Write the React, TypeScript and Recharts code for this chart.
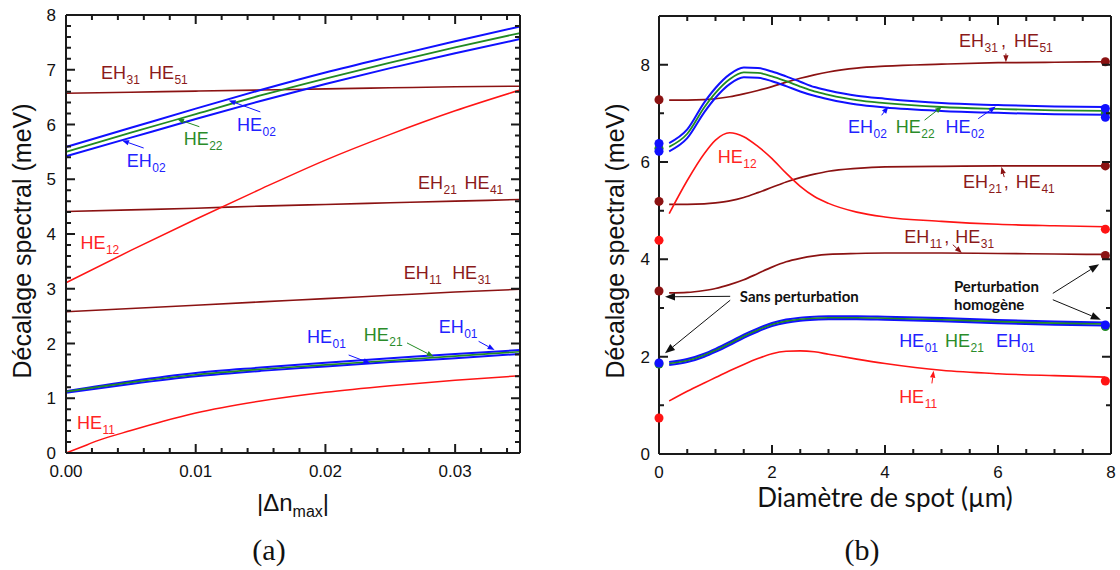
import React from 'react';
import { ComposedChart, Line, Scatter, XAxis, YAxis, ReferenceDot, ReferenceLine } from 'recharts';

const DR = '#8b1212';
const RED = '#ff1414';
const BLUE = '#1010ff';
const GREEN = '#228b22';
const DR_T = '#8b1a1a';
const RED_T = '#ff2424';
const BLUE_T = '#2222ff';
const GREEN_T = '#2a8c2a';
const FRAME = '#1a1a1a';
const SANS = '"Liberation Sans", Arial, sans-serif';

// ---------- Panel (a) data ----------
const aX = [0, 0.005, 0.01, 0.015, 0.02, 0.025, 0.03, 0.035];
const aEH31_HE51 = [6.57, 6.59, 6.61, 6.63, 6.65, 6.67, 6.69, 6.7];
const aEH21_HE41 = [4.41, 4.44, 4.47, 4.51, 4.54, 4.57, 4.6, 4.63];
const aEH11_HE31 = [2.58, 2.64, 2.7, 2.76, 2.82, 2.88, 2.94, 2.99];
const aHE12 = [3.11, 3.7, 4.27, 4.82, 5.35, 5.82, 6.25, 6.63];
const aHE02 = [5.59, 5.94, 6.29, 6.63, 6.95, 7.24, 7.52, 7.79];
const aHE22 = [5.5, 5.85, 6.19, 6.53, 6.84, 7.13, 7.41, 7.67];
const aEH02 = [5.42, 5.76, 6.1, 6.43, 6.74, 7.03, 7.3, 7.56];
const aEH01 = [1.13, 1.31, 1.46, 1.56, 1.65, 1.73, 1.81, 1.88];
const aHE21 = [1.12, 1.29, 1.43, 1.53, 1.61, 1.69, 1.77, 1.85];
const aHE01 = [1.1, 1.26, 1.4, 1.5, 1.58, 1.66, 1.73, 1.81];
const aHE11X = [0, 0.001, 0.0025, 0.005, 0.0075, 0.01, 0.015, 0.02, 0.025, 0.03, 0.035];
const aHE11 = [0, 0.09, 0.23, 0.41, 0.58, 0.73, 0.95, 1.11, 1.23, 1.33, 1.41];

// ---------- Panel (b) data ----------
const bX = [0.18, 0.5, 0.8, 1.0, 1.25, 1.5, 1.75, 2.0, 2.25, 2.5, 2.75, 3.0, 3.5, 4.0, 5.0, 6.0, 7.0, 7.9];
const bEH31_HE51 = [7.27, 7.27, 7.28, 7.3, 7.34, 7.4, 7.47, 7.55, 7.64, 7.72, 7.79, 7.85, 7.93, 7.97, 8.01, 8.04, 8.05, 8.06];
const bEH21_HE41 = [5.13, 5.13, 5.14, 5.16, 5.2, 5.27, 5.37, 5.48, 5.59, 5.68, 5.75, 5.81, 5.87, 5.9, 5.91, 5.92, 5.92, 5.92];
const bEH11_HE31 = [3.31, 3.32, 3.36, 3.4, 3.48, 3.58, 3.71, 3.84, 3.95, 4.02, 4.07, 4.1, 4.12, 4.13, 4.13, 4.12, 4.11, 4.1];
const bHE12 = [4.94, 5.62, 6.17, 6.45, 6.6, 6.52, 6.32, 6.07, 5.77, 5.5, 5.29, 5.15, 4.97, 4.87, 4.78, 4.72, 4.69, 4.67];
const bHE02 = [6.39, 6.67, 7.22, 7.52, 7.8, 7.94, 7.93, 7.86, 7.76, 7.65, 7.54, 7.47, 7.36, 7.3, 7.21, 7.17, 7.14, 7.13];
const bHE22 = [6.31, 6.58, 7.12, 7.42, 7.7, 7.84, 7.83, 7.76, 7.66, 7.55, 7.45, 7.38, 7.27, 7.21, 7.13, 7.09, 7.06, 7.05];
const bEH02 = [6.22, 6.49, 7.02, 7.32, 7.6, 7.74, 7.73, 7.66, 7.56, 7.45, 7.36, 7.29, 7.18, 7.12, 7.05, 7.01, 6.98, 6.97];
const bEH01 = [1.89, 1.95, 2.06, 2.16, 2.3, 2.45, 2.58, 2.69, 2.76, 2.8, 2.82, 2.83, 2.83, 2.82, 2.79, 2.75, 2.72, 2.7];
const bHE21 = [1.86, 1.92, 2.03, 2.13, 2.27, 2.42, 2.55, 2.66, 2.73, 2.77, 2.79, 2.8, 2.8, 2.79, 2.76, 2.72, 2.69, 2.67];
const bHE01 = [1.83, 1.89, 2.0, 2.1, 2.24, 2.39, 2.52, 2.63, 2.7, 2.74, 2.76, 2.77, 2.77, 2.76, 2.73, 2.69, 2.66, 2.64];
const bHE11 = [1.09, 1.29, 1.46, 1.57, 1.71, 1.84, 1.96, 2.06, 2.11, 2.12, 2.1, 2.05, 1.95, 1.86, 1.72, 1.65, 1.61, 1.58];

// end-point markers (no perturbation at x = 0, homogeneous perturbation at x = 7.9)
const bDotX = [0, 7.9];
const bDotsDarkRed = [[7.28, 8.06], [5.19, 5.92], [3.35, 4.08]];
const bDotsRed = [[4.39, 4.62], [0.74, 1.5]];
const bDotsBlue = [[6.38, 7.1], [6.22, 6.92], [1.87, 2.65]];
const bDotsGreen = [[6.28, 7.0], [1.85, 2.62]];

// axis domains and tick positions
const aXDomain = [0, 0.035];
const aYDomain = [0, 8];
const bXDomain = [0, 8];
const bYDomain = [0, 9];
const aXTicks = Array.from({ length: 18 }, (_, i) => i * 0.002);
const aYTicks = Array.from({ length: 41 }, (_, i) => i / 5);
const bXTicks = Array.from({ length: 17 }, (_, i) => i / 2);
const bYTicks = Array.from({ length: 10 }, (_, i) => i);

// plot rectangles on the page (these equal the chart margins below)
const A_RECT = { l: 66, r: 520, t: 15, b: 453 };
const B_RECT = { l: 659, r: 1111, t: 16, b: 454 };

const pts = (xs: number[], ys: number[]) => xs.map((x, i) => ({ x, y: ys[i] }));
const dotPts = (pairs: number[][]) =>
  pairs.flatMap((p) => p.map((y, i) => ({ x: bDotX[i], y })));

const near = (v: number, step: number) => Math.abs(v / step - Math.round(v / step)) < 1e-6;

// inward tick marks on all four sides of a frame
const frameTicks = (
  rect: { l: number; r: number; t: number; b: number },
  xDom: number[], xTicks: number[], xStep: number,
  yDom: number[], yTicks: number[], yStep: number
) => {
  const sx = (v: number) => rect.l + ((v - xDom[0]) / (xDom[1] - xDom[0])) * (rect.r - rect.l);
  const sy = (v: number) => rect.b - ((v - yDom[0]) / (yDom[1] - yDom[0])) * (rect.b - rect.t);
  let d = '';
  xTicks.forEach((v) => {
    const len = near(v, xStep) ? 9 : 5;
    const X = sx(v);
    d += `M${X},${rect.b}V${rect.b - len}M${X},${rect.t}V${rect.t + len}`;
  });
  yTicks.forEach((v) => {
    const len = near(v, yStep) ? 9 : 5;
    const Y = sy(v);
    d += `M${rect.l},${Y}H${rect.l + len}M${rect.r},${Y}H${rect.r - len}`;
  });
  return <path d={d} stroke={FRAME} strokeWidth={2} fill="none" />;
};

// tick labels (drawn by the axes)
const AxisLabel = (props: any) => {
  const { x, y, payload, side, step, fmt, off } = props;
  const v = Number(payload && payload.value);
  if (!fmt || !near(v, step)) return <g />;
  if (side === 'bottom') {
    return <text x={x} y={Number(y) + off} textAnchor="middle" fontSize={17} fontFamily={SANS} fill="#111">{fmt(v)}</text>;
  }
  return <text x={Number(x) - off} y={Number(y) + 6} textAnchor="end" fontSize={17} fontFamily={SANS} fill="#111">{fmt(v)}</text>;
};

type Part = { t: string; s?: string; c: string; gap?: number };
type Note = { x: number; y: number; parts: Part[] };

const labelShape = (parts: Part[], size = 18, sub = 12, font = SANS) => (props: any) => {
  const { cx, cy } = props;
  const nodes: any[] = [];
  let down = false;
  parts.forEach((p, i) => {
    nodes.push(
      <tspan key={i + 'm'} fill={p.c} fontSize={size} dx={i === 0 ? 0 : p.gap ?? 8} dy={down ? -5 : 0}>{p.t}</tspan>
    );
    down = false;
    if (p.s) {
      nodes.push(
        <tspan key={i + 's'} fill={p.c} fontSize={sub} dx={0.5} dy={5}>{p.s}</tspan>
      );
      down = true;
    }
  });
  return <text x={cx} y={cy} fontFamily={font}>{nodes}</text>;
};

const arrowShape = (color: string, head = 7, w = 1) => (props: any) => {
  const { x1, y1, x2, y2 } = props;
  const dx = x2 - x1;
  const dy = y2 - y1;
  const L = Math.hypot(dx, dy) || 1;
  const ux = dx / L;
  const uy = dy / L;
  const bx = x2 - ux * head;
  const by = y2 - uy * head;
  const hw = head * 0.38;
  return (
    <g>
      <line x1={x1} y1={y1} x2={bx} y2={by} stroke={color} strokeWidth={w} />
      <polygon points={`${x2},${y2} ${bx - uy * hw},${by + ux * hw} ${bx + uy * hw},${by - ux * hw}`} fill={color} />
    </g>
  );
};

type Arrow = { x1: number; y1: number; x2: number; y2: number; c: string; head?: number };

// ---------- annotations ----------
const aNotes: Note[] = [
  { x: 0.0027, y: 6.83, parts: [{ t: 'EH', s: '31', c: DR_T }, { t: 'HE', s: '51', c: DR_T, gap: 9 }] },
  { x: 0.01318, y: 5.88, parts: [{ t: 'HE', s: '02', c: BLUE_T }] },
  { x: 0.00907, y: 5.62, parts: [{ t: 'HE', s: '22', c: GREEN_T }] },
  { x: 0.00469, y: 5.22, parts: [{ t: 'EH', s: '02', c: BLUE_T }] },
  { x: 0.02714, y: 4.82, parts: [{ t: 'EH', s: '21', c: DR_T }, { t: 'HE', s: '41', c: DR_T, gap: 7.5 }] },
  { x: 0.00111, y: 3.73, parts: [{ t: 'HE', s: '12', c: RED_T }] },
  { x: 0.02603, y: 3.18, parts: [{ t: 'EH', s: '11', c: DR_T }, { t: 'HE', s: '31', c: DR_T, gap: 10.5 }] },
  { x: 0.01858, y: 2.01, parts: [{ t: 'HE', s: '01', c: BLUE_T }] },
  { x: 0.02295, y: 2.05, parts: [{ t: 'HE', s: '21', c: GREEN_T }] },
  { x: 0.02873, y: 2.19, parts: [{ t: 'EH', s: '01', c: BLUE_T }] },
  { x: 0.00085, y: 0.44, parts: [{ t: 'HE', s: '11', c: RED_T }] },
];
const aArrows: Arrow[] = [
  { x1: 0.01498, y1: 6.23, x2: 0.01254, y2: 6.44, c: BLUE },
  { x1: 0.01028, y1: 5.96, x2: 0.00856, y2: 6.1, c: GREEN },
  { x1: 0.00599, y1: 5.57, x2: 0.00432, y2: 5.71, c: BLUE },
  { x1: 0.02179, y1: 1.79, x2: 0.02346, y2: 1.64, c: BLUE },
  { x1: 0.02629, y1: 2.01, x2: 0.02835, y2: 1.76, c: GREEN },
  { x1: 0.03181, y1: 2.04, x2: 0.03304, y2: 1.88, c: BLUE },
];

const bNotes: Note[] = [
  { x: 5.31, y: 8.36, parts: [{ t: 'EH', s: '31', c: DR_T }, { t: ',', c: DR_T, gap: 3 }, { t: 'HE', s: '51', c: DR_T, gap: 8 }] },
  { x: 3.345, y: 6.59, parts: [{ t: 'EH', s: '02', c: BLUE_T }] },
  { x: 4.19, y: 6.59, parts: [{ t: 'HE', s: '22', c: GREEN_T }] },
  { x: 5.07, y: 6.59, parts: [{ t: 'HE', s: '02', c: BLUE_T }] },
  { x: 1.04, y: 5.98, parts: [{ t: 'HE', s: '12', c: RED_T }] },
  { x: 5.38, y: 5.46, parts: [{ t: 'EH', s: '21', c: DR_T }, { t: ',', c: DR_T, gap: 2 }, { t: 'HE', s: '41', c: DR_T, gap: 7 }] },
  { x: 4.34, y: 4.33, parts: [{ t: 'EH', s: '11', c: DR_T }, { t: ',', c: DR_T, gap: 2 }, { t: 'HE', s: '31', c: DR_T, gap: 6 }] },
  { x: 4.25, y: 2.2, parts: [{ t: 'HE', s: '01', c: BLUE_T }, { t: 'HE', s: '21', c: GREEN_T, gap: 7 }, { t: 'EH', s: '01', c: BLUE_T, gap: 12 }] },
  { x: 4.25, y: 1.05, parts: [{ t: 'HE', s: '11', c: RED_T }] },
];
const bArrows: Arrow[] = [
  { x1: 6.14, y1: 8.23, x2: 6.14, y2: 8.05, c: DR },
  { x1: 3.94, y1: 6.96, x2: 4.06, y2: 7.14, c: BLUE },
  { x1: 4.7, y1: 6.86, x2: 5.01, y2: 7.14, c: GREEN },
  { x1: 5.65, y1: 6.89, x2: 5.96, y2: 7.14, c: BLUE },
  { x1: 6.11, y1: 5.69, x2: 6.06, y2: 5.9, c: DR },
  { x1: 5.2, y1: 4.3, x2: 5.36, y2: 4.13, c: DR },
  { x1: 4.83, y1: 1.45, x2: 4.86, y2: 1.71, c: RED },
  { x1: 1.26, y1: 3.24, x2: 0.106, y2: 3.23, c: '#111', head: 10 },
  { x1: 1.26, y1: 3.16, x2: 0.106, y2: 2.07, c: '#111', head: 10 },
  { x1: 6.97, y1: 3.3, x2: 7.79, y2: 3.9, c: '#111', head: 10 },
  { x1: 6.97, y1: 3.17, x2: 7.82, y2: 2.76, c: '#111', head: 10 },
];
const bTextNotes = [
  { x: 1.43, y: 3.12, text: 'Sans perturbation' },
  { x: 5.22, y: 3.32, text: 'Perturbation' },
  { x: 5.22, y: 2.95, text: 'homogène' },
];

const frameLine = { stroke: FRAME, strokeWidth: 2 };

const renderNotes = (notes: Note[]) =>
  notes.map((n, i) => (
    <ReferenceDot key={'n' + i} x={n.x} y={n.y} r={0} ifOverflow="visible" shape={labelShape(n.parts)} />
  ));
const renderArrows = (arrows: Arrow[]) =>
  arrows.map((a, i) => (
    <ReferenceLine
      key={'a' + i}
      segment={[{ x: a.x1, y: a.y1 }, { x: a.x2, y: a.y2 }]}
      ifOverflow="visible"
      shape={arrowShape(a.c, a.head ?? 7, 1)}
    />
  ));

// axis sizes (plot area = chart minus margins minus these)
const BOTTOM_H = 40;
const TOP_H = 5;
const LEFT_W = 50;
const RIGHT_W = 5;

const fmtA = (v: number) => v.toFixed(2);
const fmtInt = (v: number) => String(Math.round(v));

const PanelA = () => (
  <ComposedChart width={560} height={570}
    margin={{ top: A_RECT.t - TOP_H, right: 560 - A_RECT.r - RIGHT_W, bottom: 570 - A_RECT.b - BOTTOM_H, left: A_RECT.l - LEFT_W }}>
    <XAxis dataKey="x" type="number" domain={aXDomain} ticks={aXTicks} interval={0} height={BOTTOM_H} tickSize={0} tickMargin={0}
      tickLine={false} axisLine={frameLine}
      tick={<AxisLabel side="bottom" step={0.01} fmt={fmtA} off={24} />} />
    <XAxis xAxisId="t" orientation="top" dataKey="x" type="number" domain={aXDomain} height={TOP_H}
      tickLine={false} axisLine={frameLine} tick={false} />
    <YAxis type="number" domain={aYDomain} ticks={aYTicks} interval={0} width={LEFT_W} tickSize={0} tickMargin={0}
      tickLine={false} axisLine={frameLine}
      tick={<AxisLabel side="left" step={1} fmt={fmtInt} off={10} />} />
    <YAxis yAxisId="r" orientation="right" type="number" domain={aYDomain} width={RIGHT_W}
      tickLine={false} axisLine={frameLine} tick={false} />

    <Line data={pts(aX, aEH31_HE51)} dataKey="y" type="monotone" stroke={DR} strokeWidth={1.6} dot={false} isAnimationActive={false} />
    <Line data={pts(aX, aEH21_HE41)} dataKey="y" type="monotone" stroke={DR} strokeWidth={1.6} dot={false} isAnimationActive={false} />
    <Line data={pts(aX, aEH11_HE31)} dataKey="y" type="monotone" stroke={DR} strokeWidth={1.6} dot={false} isAnimationActive={false} />
    <Line data={pts(aX, aHE12)} dataKey="y" type="monotone" stroke={RED} strokeWidth={1.5} dot={false} isAnimationActive={false} />
    <Line data={pts(aHE11X, aHE11)} dataKey="y" type="monotone" stroke={RED} strokeWidth={1.5} dot={false} isAnimationActive={false} />
    <Line data={pts(aX, aHE02)} dataKey="y" type="monotone" stroke={BLUE} strokeWidth={2} dot={false} isAnimationActive={false} />
    <Line data={pts(aX, aEH02)} dataKey="y" type="monotone" stroke={BLUE} strokeWidth={2} dot={false} isAnimationActive={false} />
    <Line data={pts(aX, aHE22)} dataKey="y" type="monotone" stroke={GREEN} strokeWidth={1.8} dot={false} isAnimationActive={false} />
    <Line data={pts(aX, aEH01)} dataKey="y" type="monotone" stroke={BLUE} strokeWidth={2} dot={false} isAnimationActive={false} />
    <Line data={pts(aX, aHE01)} dataKey="y" type="monotone" stroke={BLUE} strokeWidth={2} dot={false} isAnimationActive={false} />
    <Line data={pts(aX, aHE21)} dataKey="y" type="monotone" stroke={GREEN} strokeWidth={1.6} dot={false} isAnimationActive={false} />

    {renderArrows(aArrows)}
    {renderNotes(aNotes)}
  </ComposedChart>
);

const PanelB = () => (
  <ComposedChart width={560} height={570}
    margin={{ top: B_RECT.t - TOP_H, right: 1120 - B_RECT.r - RIGHT_W, bottom: 570 - B_RECT.b - BOTTOM_H, left: B_RECT.l - 560 - LEFT_W }}>
    <XAxis dataKey="x" type="number" domain={bXDomain} ticks={bXTicks} interval={0} height={BOTTOM_H} tickSize={0} tickMargin={0}
      tickLine={false} axisLine={frameLine}
      tick={<AxisLabel side="bottom" step={2} fmt={fmtInt} off={24} />} />
    <XAxis xAxisId="t" orientation="top" dataKey="x" type="number" domain={bXDomain} height={TOP_H}
      tickLine={false} axisLine={frameLine} tick={false} />
    <YAxis type="number" domain={bYDomain} ticks={bYTicks} interval={0} width={LEFT_W} tickSize={0} tickMargin={0}
      tickLine={false} axisLine={frameLine}
      tick={<AxisLabel side="left" step={2} fmt={fmtInt} off={9} />} />
    <YAxis yAxisId="r" orientation="right" type="number" domain={bYDomain} width={RIGHT_W}
      tickLine={false} axisLine={frameLine} tick={false} />

    <Line data={pts(bX, bEH31_HE51)} dataKey="y" type="monotone" stroke={DR} strokeWidth={1.7} dot={false} isAnimationActive={false} />
    <Line data={pts(bX, bEH21_HE41)} dataKey="y" type="monotone" stroke={DR} strokeWidth={1.7} dot={false} isAnimationActive={false} />
    <Line data={pts(bX, bEH11_HE31)} dataKey="y" type="monotone" stroke={DR} strokeWidth={1.7} dot={false} isAnimationActive={false} />
    <Line data={pts(bX, bHE12)} dataKey="y" type="monotone" stroke={RED} strokeWidth={1.6} dot={false} isAnimationActive={false} />
    <Line data={pts(bX, bHE11)} dataKey="y" type="monotone" stroke={RED} strokeWidth={1.6} dot={false} isAnimationActive={false} />
    <Line data={pts(bX, bHE02)} dataKey="y" type="monotone" stroke={BLUE} strokeWidth={2} dot={false} isAnimationActive={false} />
    <Line data={pts(bX, bEH02)} dataKey="y" type="monotone" stroke={BLUE} strokeWidth={2} dot={false} isAnimationActive={false} />
    <Line data={pts(bX, bHE22)} dataKey="y" type="monotone" stroke={GREEN} strokeWidth={1.8} dot={false} isAnimationActive={false} />
    <Line data={pts(bX, bEH01)} dataKey="y" type="monotone" stroke={BLUE} strokeWidth={2.2} dot={false} isAnimationActive={false} />
    <Line data={pts(bX, bHE01)} dataKey="y" type="monotone" stroke={BLUE} strokeWidth={2.2} dot={false} isAnimationActive={false} />
    <Line data={pts(bX, bHE21)} dataKey="y" type="monotone" stroke={GREEN} strokeWidth={1.6} dot={false} isAnimationActive={false} />

    <Scatter data={dotPts(bDotsDarkRed)} dataKey="y" fill={DR} isAnimationActive={false} />
    <Scatter data={dotPts(bDotsRed)} dataKey="y" fill={RED} isAnimationActive={false} />
    <Scatter data={dotPts(bDotsGreen)} dataKey="y" fill={GREEN} isAnimationActive={false} />
    <Scatter data={dotPts(bDotsBlue)} dataKey="y" fill={BLUE} isAnimationActive={false} />

    {renderArrows(bArrows)}
    {renderNotes(bNotes)}
    {bTextNotes.map((n, i) => (
      <ReferenceDot key={'t' + i} x={n.x} y={n.y} r={0} ifOverflow="visible"
        shape={(p: any) => (
          <text x={p.cx} y={p.cy} fontFamily="Lato, 'Open Sans', sans-serif" fontWeight={700} fontSize={15} fill="#111">{n.text}</text>
        )} />
    ))}
  </ComposedChart>
);

export default function App() {
  return (
    <div style={{ position: 'absolute', left: 0, top: 0, width: 1120, height: 570, background: '#fff', overflow: 'hidden' }}>
      <div style={{ position: 'absolute', left: 0, top: 0 }}>
        <PanelA />
      </div>
      <div style={{ position: 'absolute', left: 560, top: 0 }}>
        <PanelB />
      </div>
      <svg width={1120} height={570} style={{ position: 'absolute', left: 0, top: 0, pointerEvents: 'none' }}>
        {frameTicks(A_RECT, aXDomain, aXTicks, 0.01, aYDomain, aYTicks, 1)}
        {frameTicks(B_RECT, bXDomain, bXTicks, 2, bYDomain, bYTicks, 2)}
        <text transform="translate(31,241) rotate(-90)" textAnchor="middle" fontFamily={SANS} fontSize={25} fill="#111">Décalage spectral (meV)</text>
        <text transform="translate(624,241) rotate(-90)" textAnchor="middle" fontFamily={SANS} fontSize={25} fill="#111">Décalage spectral (meV)</text>
        <text x={293} y={511} textAnchor="middle" fontFamily={SANS} fontSize={24} fill="#111">
          |Δn<tspan fontSize={16} dy={6}>max</tspan><tspan dy={-6}>|</tspan>
        </text>
        <text x={885} y={507} textAnchor="middle" fontFamily="Lato, 'Open Sans', sans-serif" fontSize={26} fill="#111">Diamètre de spot (µm)</text>
        <text x={269} y={560} textAnchor="middle" fontFamily="'Liberation Serif', serif" fontSize={30} fill="#111">(a)</text>
        <text x={862} y={560} textAnchor="middle" fontFamily="'Liberation Serif', serif" fontSize={30} fill="#111">(b)</text>
      </svg>
    </div>
  );
}
